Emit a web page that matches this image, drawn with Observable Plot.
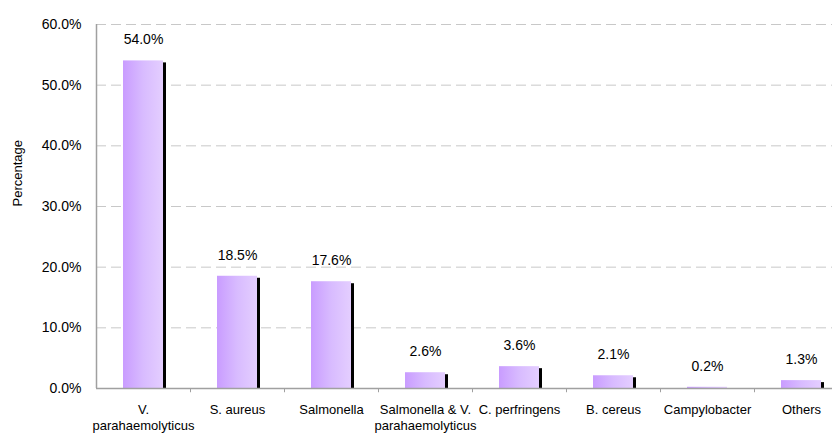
<!DOCTYPE html>
<html>
<head>
<meta charset="utf-8">
<script src="https://cdn.jsdelivr.net/npm/d3@7"></script>
<script src="https://cdn.jsdelivr.net/npm/@observablehq/plot@0.6"></script>
<style>
  html, body { margin: 0; padding: 0; background: #fff; }
  svg { font-family: "Liberation Sans", Arial, sans-serif; overflow: hidden; }
</style>
</head>
<body>
<div id="chart"></div>
<script>
const categories = ["V. parahaemolyticus", "S. aureus", "Salmonella", "Salmonella & V. parahaemolyticus", "C. perfringens", "B. cereus", "Campylobacter", "Others"];
const tickLabels = ["V.\nparahaemolyticus", "S. aureus", "Salmonella", "Salmonella & V.\nparahaemolyticus", "C. perfringens", "B. cereus", "Campylobacter", "Others"];
const values = [54.0, 18.5, 17.6, 2.6, 3.6, 2.1, 0.2, 1.3];
const yTicks = [0, 10, 20, 30, 40, 50, 60];

const data = categories.map((c, i) => ({cat: c, value: values[i], label: values[i].toFixed(1) + "%"}));
const labelOf = new Map(categories.map((c, i) => [c, tickLabels[i]]));

const chart = Plot.plot({
  width: 832,
  height: 434,
  marginLeft: 96,
  marginRight: 0,
  marginTop: 24,
  marginBottom: 46,
  style: {fontFamily: "'Liberation Sans', Arial, sans-serif", background: "#fff"},
  x: {domain: categories, range: [96, 848], padding: 0},
  y: {domain: [0, 60], range: [388, 24]},
  marks: [
    Plot.gridY(yTicks.filter(d => d > 0), {stroke: "#c8c8c8", strokeOpacity: 1, strokeDasharray: "10,5"}),
    Plot.barY(data, {x: "cat", y: "value", fill: "#000", insetLeft: 67, insetRight: 24, insetTop: 2}),
    Plot.barY(data, {x: "cat", y: "value", fill: "url(#barGrad)", insetLeft: 27, insetRight: 27}),
    Plot.ruleY([0], {stroke: "#a0a0a0", strokeWidth: 1.5}),
    Plot.ruleX([categories[0]], {x: d => d, y1: 0, y2: 60, dx: -47, stroke: "#a0a0a0", strokeWidth: 1.5}),
    Plot.ruleX(categories.slice(1), {x: d => d, y1: 0, y2: -0.7, dx: -47, stroke: "#a0a0a0"}),
    Plot.axisY({ticks: yTicks, tickFormat: d => d.toFixed(1) + "%", tickSize: 0, tickPadding: 15, fontSize: 14, label: null, fill: "#000"}),
    Plot.axisX({tickFormat: d => labelOf.get(d), tickSize: 0, tickPadding: 13, fontSize: 13, lineHeight: 1.3, label: null, fill: "#000"}),
    Plot.text(data, {x: "cat", y: "value", text: "label", dy: -21, dx: 0, fontSize: 14, fill: "#000"}),
    Plot.text(["Percentage"], {frameAnchor: "left", dx: -79, rotate: -90, fontSize: 13, fill: "#000"})
  ]
});

const svg = d3.select(chart);
const defs = svg.insert("defs", ":first-child");
const grad = defs.append("linearGradient").attr("id", "barGrad").attr("x1", "0").attr("x2", "1").attr("y1", "0").attr("y2", "0");
grad.append("stop").attr("offset", "0").attr("stop-color", "#c99cff");
grad.append("stop").attr("offset", "0.5").attr("stop-color", "#d8bbff");
grad.append("stop").attr("offset", "1").attr("stop-color", "#e4ceff");

document.getElementById("chart").appendChild(chart);
</script>
</body>
</html>
